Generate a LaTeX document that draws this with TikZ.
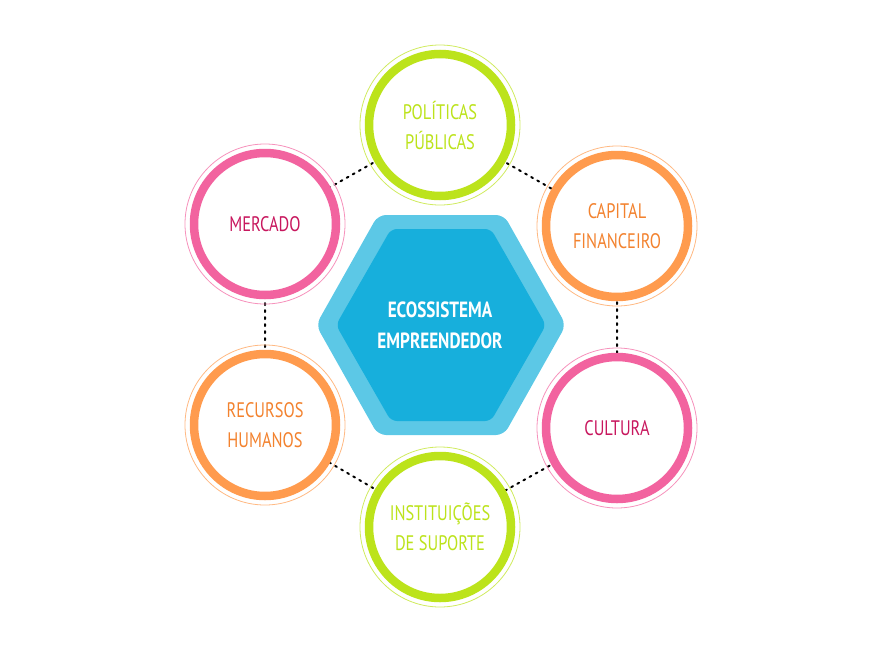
\documentclass[tikz,border=0pt]{standalone}
\usepackage{fontspec}
\setmainfont{PT Sans}
\newfontfamily\cond{PT Sans}[FakeStretch=0.78]
\definecolor{lime}{HTML}{BCE31B}
\definecolor{orng}{HTML}{FF9B4E}
\definecolor{orngtxt}{HTML}{F3822E}
\definecolor{pnk}{HTML}{F2639F}
\definecolor{pnktxt}{HTML}{C8175E}
\definecolor{hexout}{HTML}{5CC8E6}
\definecolor{hexin}{HTML}{17AFDC}
\begin{document}
\begin{tikzpicture}[x=1pt,y=-1pt,
 ring/.style args = {#1/#2}{%
      circle, draw=#1, line width=8.5pt, fill=white,
      minimum size=142pt, text=#2, align=center,
      font=\cond\fontsize{21}{30}\selectfont,
      append after command={\pgfextra{\draw[#1!70, line width=0.8pt]
        (\tikzlastnode.center) circle (80pt);}}},
 dots/.style = {line width=2pt, dash pattern=on 2pt off 5pt, line cap=round}
                    ]
\useasboundingbox (0,0) rectangle (875,645);
% connectors first
\coordinate (pp) at (440,125);
\coordinate (cf) at (617,226);
\coordinate (cu) at (617,428);
\coordinate (is) at (440,527);
\coordinate (rh) at (265,425);
\coordinate (me) at (265,224);
\draw[dots] (pp) -- (cf) -- (cu) -- (is) -- (rh) -- (me) -- cycle;
%
\fill[hexout, rounded corners=8pt] (316,325) -- (378,215) -- (504,215)
   -- (566,325) -- (504,435) -- (378,435) -- cycle;
\fill[hexin, rounded corners=6pt] (336,325) -- (391,229) -- (491,229)
   -- (546,325) -- (491,421) -- (391,421) -- cycle;
\node(eco) [text=white, align=center, font=\cond\fontsize{22}{31}\selectfont\bfseries]
   at (440,325) {ECOSSISTEMA\\EMPREENDEDOR};
%
\node(pol) [ring=lime/lime] at (pp) {POLÍTICAS\\PÚBLICAS};
\node(cap) [ring=orng/orngtxt] at (cf) {CAPITAL\\FINANCEIRO};
\node(cul) [ring=pnk/pnktxt] at (cu) {CULTURA};
\node(ins) [ring=lime/lime] at (is) {INSTITUIÇÕES\\DE SUPORTE};
\node(rec) [ring=orng/orngtxt] at (rh) {RECURSOS\\HUMANOS};
\node(mer) [ring=pnk/pnktxt] at (me) {MERCADO};
\end{tikzpicture}
\end{document}
